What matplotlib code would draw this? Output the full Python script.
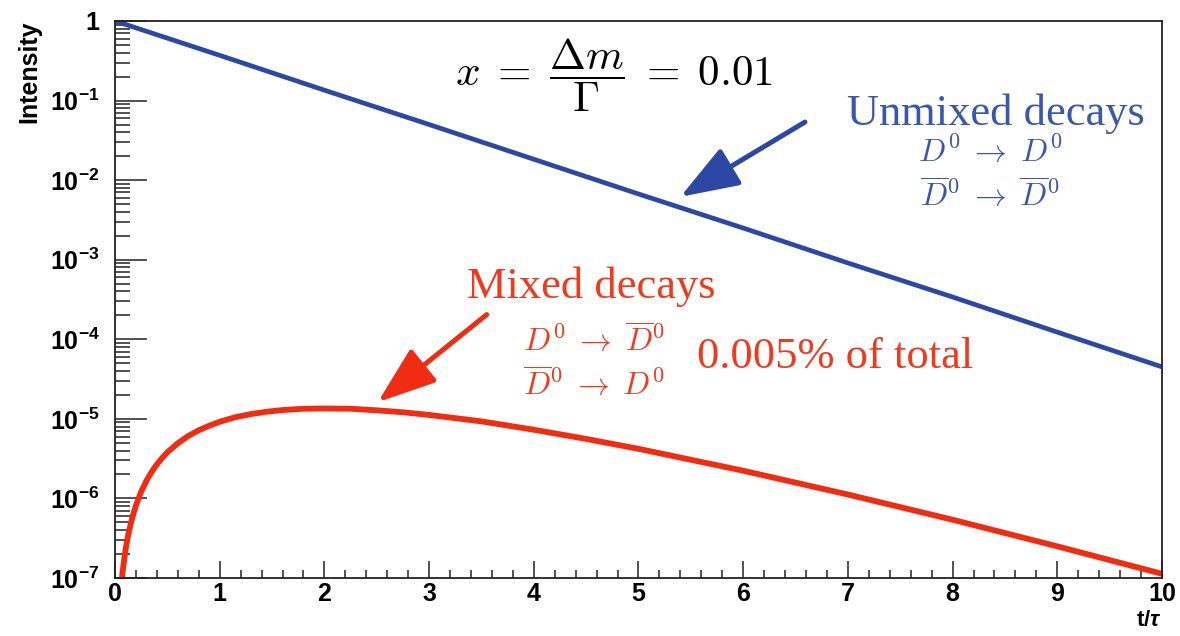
import matplotlib

matplotlib.use("Agg")
import matplotlib.pyplot as plt
from matplotlib.ticker import FixedLocator, FixedFormatter, MultipleLocator

# tick labels in bold sans, annotations switch to Computer Modern per text
plt.rcParams["mathtext.fontset"] = "custom"
plt.rcParams["mathtext.rm"] = "Liberation Sans:bold"
plt.rcParams["mathtext.it"] = "Liberation Sans:bold:italic"
plt.rcParams["mathtext.bf"] = "Liberation Sans:bold"

# proper time in units of lifetime
t_unmixed = [0, 1, 2, 3, 4, 5, 6, 7, 8, 9, 10]
i_unmixed = [1.0, 0.37, 0.135, 0.050, 0.0183, 6.7e-3, 2.5e-3, 9.1e-4, 3.4e-4, 1.23e-4, 4.5e-5]

t_mixed = [0.02, 0.07, 0.1, 0.125, 0.15, 0.175, 0.2, 0.25, 0.3, 0.35, 0.4, 0.45, 0.5,
           0.6, 0.7, 0.8, 0.9, 1.0, 1.15, 1.3, 1.45, 1.6, 1.8, 2.0, 2.25, 2.5, 2.75,
           3.0, 3.5, 4.0, 4.5, 5.0, 6.0, 7.0, 8.0, 9.0, 10.0]
i_mixed = [1e-8, 1.14e-7, 2.26e-7, 3.45e-7, 4.8e-7, 6.4e-7, 8.2e-7, 1.22e-6, 1.67e-6,
           2.16e-6, 2.68e-6, 3.23e-6, 3.8e-6, 4.94e-6, 6.1e-6, 7.2e-6, 8.2e-6, 9.2e-6,
           1.05e-5, 1.15e-5, 1.23e-5, 1.29e-5, 1.34e-5, 1.35e-5, 1.34e-5, 1.28e-5,
           1.21e-5, 1.12e-5, 9.3e-6, 7.3e-6, 5.6e-6, 4.2e-6, 2.23e-6, 1.12e-6, 5.4e-7,
           2.5e-7, 1.13e-7]

y_major = [1e-7, 1e-6, 1e-5, 1e-4, 1e-3, 1e-2, 1e-1, 1]
y_labels = ["$10^{-7}$", "$10^{-6}$", "$10^{-5}$", "$10^{-4}$",
            "$10^{-3}$", "$10^{-2}$", "$10^{-1}$", "1"]

BLUE = "#2d48a3"
BLUE_TXT = "#3a57aa"
RED = "#f02c12"
RED_TXT = "#ef3a1e"

fig = plt.figure(figsize=(11.8, 6.36), dpi=100)
ax = fig.add_axes([0.0975, 0.0912, 0.8872, 0.8758])

ax.plot(t_unmixed, i_unmixed, color=BLUE, lw=3.4, solid_capstyle="butt")
ax.plot(t_mixed, i_mixed, color=RED, lw=4.2, solid_capstyle="butt",
        solid_joinstyle="round")

ax.set_yscale("log")
ax.set_xlim(0, 10)
ax.set_ylim(1e-7, 1)

ax.xaxis.set_major_locator(MultipleLocator(1))
ax.xaxis.set_minor_locator(MultipleLocator(0.2))
ax.yaxis.set_major_locator(FixedLocator(y_major))
ax.yaxis.set_major_formatter(FixedFormatter(y_labels))

ax.tick_params(axis="both", which="both", direction="in", top=False, right=False,
               width=1.1, color="#222222")
ax.tick_params(axis="y", which="major", length=23, pad=11, labelsize=18)
ax.tick_params(axis="y", which="minor", length=11)
ax.tick_params(axis="x", which="major", length=12, pad=3, labelsize=18)
ax.tick_params(axis="x", which="minor", length=6)
for lab in ax.get_xticklabels() + ax.get_yticklabels():
    lab.set_fontfamily("Liberation Sans")
    lab.set_fontweight("bold")
for sp in ax.spines.values():
    sp.set_linewidth(1.3)
    sp.set_color("#222222")

ax.set_ylabel("Intensity", fontsize=18, fontweight="bold", family="Liberation Sans",
              loc="top")
ax.yaxis.set_label_coords(-0.07, 1.0)
ax.set_xlabel(r"t/$\tau$", fontsize=16, fontweight="bold", family="Liberation Sans",
              loc="right")
ax.xaxis.set_label_coords(1.0, -0.058)

ax.text(4.77, 10 ** -0.68, r"$x\;=\;\dfrac{\Delta m}{\Gamma}\;=\;0.01$", fontsize=31,
        math_fontfamily="cm", ha="center", va="center")

# unmixed annotation
ax.text(8.41, 10 ** -1.16, "Unmixed decays", fontsize=32, family="Liberation Serif",
        color=BLUE_TXT, ha="center", va="center")
ax.text(8.36, 10 ** -1.65, r"$D^0\;\rightarrow\;D^0$", fontsize=23, math_fontfamily="cm",
        color=BLUE_TXT, ha="center", va="center")
ax.text(8.36, 10 ** -2.19, r"$\overline{D}^0\;\rightarrow\;\overline{D}^0$", fontsize=23,
        math_fontfamily="cm", color=BLUE_TXT, ha="center", va="center")
ax.annotate("", xy=(5.40, 10 ** -2.21), xytext=(6.59, 10 ** -1.27),
            arrowprops=dict(arrowstyle="-|>,head_length=1.8,head_width=0.65",
                            color=BLUE, lw=3.6, shrinkA=0, shrinkB=0,
                            mutation_scale=20))

# mixed annotation
ax.text(4.55, 10 ** -3.34, "Mixed decays", fontsize=32, family="Liberation Serif",
        color=RED_TXT, ha="center", va="center")
ax.text(4.58, 10 ** -4.01, r"$D^0\;\rightarrow\;\overline{D}^0$", fontsize=23,
        math_fontfamily="cm", color=RED_TXT, ha="center", va="center")
ax.text(4.58, 10 ** -4.57, r"$\overline{D}^0\;\rightarrow\;D^0$", fontsize=23,
        math_fontfamily="cm", color=RED_TXT, ha="center", va="center")
ax.text(6.88, 10 ** -4.22, "0.005% of total", fontsize=32, family="Liberation Serif",
        color=RED_TXT, ha="center", va="center")
ax.annotate("", xy=(2.51, 10 ** -4.79), xytext=(3.55, 10 ** -3.69),
            arrowprops=dict(arrowstyle="-|>,head_length=1.8,head_width=0.65",
                            color=RED, lw=3.6, shrinkA=0, shrinkB=0,
                            mutation_scale=20))

fig.savefig("out.png", dpi=100)
